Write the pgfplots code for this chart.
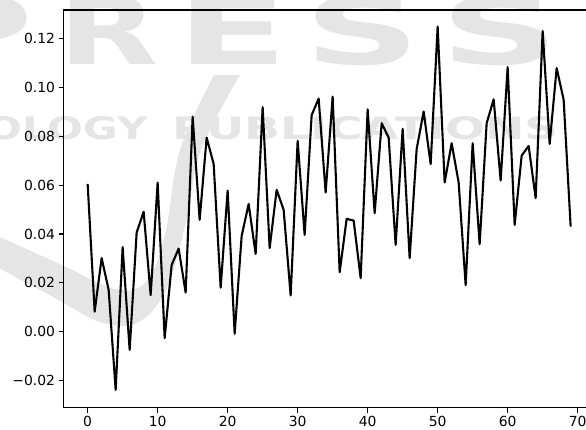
\documentclass[border=0pt]{standalone}
\usepackage{fontspec}
\setmainfont{DejaVu Sans}
\usepackage{pgfplots}
\pgfplotsset{compat=1.18}

\pgfplotstableread{
i val
0 0.0605
1 0.0082
2 0.0301
3 0.0171
4 -0.0239
5 0.0346
6 -0.0075
7 0.0406
8 0.0491
9 0.0149
10 0.0611
11 -0.0027
12 0.0273
13 0.0340
14 0.0160
15 0.0881
16 0.0458
17 0.0795
18 0.0687
19 0.0180
20 0.0578
21 -0.0009
22 0.0392
23 0.0523
24 0.0318
25 0.0920
26 0.0342
27 0.0581
28 0.0499
29 0.0148
30 0.0782
31 0.0396
32 0.0887
33 0.0955
34 0.0570
35 0.0963
36 0.0243
37 0.0462
38 0.0455
39 0.0219
40 0.0911
41 0.0485
42 0.0854
43 0.0795
44 0.0355
45 0.0831
46 0.0301
47 0.0748
48 0.0902
49 0.0686
50 0.1250
51 0.0611
52 0.0772
53 0.0611
54 0.0190
55 0.0772
56 0.0358
57 0.0854
58 0.0952
59 0.0619
60 0.1084
61 0.0437
62 0.0721
63 0.0761
64 0.0547
65 0.1232
66 0.0769
67 0.1080
68 0.0950
69 0.0430
}\series

\definecolor{wm}{gray}{0.9}

% one stretched watermark letter, left edge at #1, width #2
\newcommand\wmletter[3]{%
  \node[anchor=base west, inner sep=0pt, text=wm, font=\bfseries] at (#1,65)
    {\resizebox{#2pt}{69pt}{#3}};}

\begin{document}
\begin{tikzpicture}[x=1pt,y=1pt]
% publisher watermark behind the plot (drawn with y pointing down)
\begin{scope}[shift={(0,429)}, y=-1pt]
  \fill[wm] plot[smooth, tension=0.6] coordinates {(-5,235) (60,264) (115,289) (146,282) (165,235) (180,150) (214,75)}
        -- plot[smooth, tension=0.6] coordinates {(240,75) (201,150) (186,222) (166,290) (137,323) (100,322) (55,298) (-5,266)}
        -- cycle;
  \wmletter{-85}{118}{P}
  \wmletter{58}{100}{R}
  \wmletter{176}{112}{E}
  \wmletter{304}{116}{S}
  \wmletter{440}{119}{S}
  \node[anchor=base west, inner sep=0pt, text=wm, font=\bfseries] at (172,140)
        {\resizebox{386pt}{23pt}{PUBLICATIONS}};
  \node[anchor=base east, inner sep=0pt, text=wm, font=\bfseries] at (148,140)
        {\resizebox{320pt}{23pt}{TECHNOLOGY}};
\end{scope}

\begin{axis}[
  at={(63.5pt,21.3pt)}, anchor=south west,
  scale only axis, width=531.3pt, height=397.7pt,
  xmin=-3.45, xmax=72.45, ymin=-0.0312, ymax=0.1318,
  axis line style={line width=1.1pt, black},
  tick style={line width=1.1pt, black},
  tick align=outside, major tick length=4.9pt,
  tick pos=left,
  xtick={0,10,20,30,40,50,60,70},
  ytick={-0.02,0,0.02,0.04,0.06,0.08,0.10,0.12},
  yticklabels={−0.02,0.00,0.02,0.04,0.06,0.08,0.10,0.12},
  /pgf/number format/assume math mode=true,
  tick label style={font=\fontsize{13.9}{16.7}\selectfont, text=black},
]
\addplot[black, line width=2.1pt, line join=round, mark=none] table[x=i, y=val] {\series};
\end{axis}

\pgfresetboundingbox
\useasboundingbox (0,0) rectangle (586,429);
\end{tikzpicture}
\end{document}
